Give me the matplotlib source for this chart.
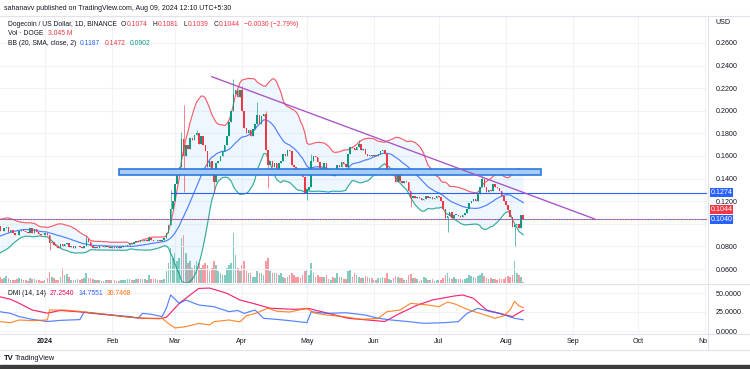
import numpy as np
import pandas as pd
import matplotlib
matplotlib.use("Agg")
import matplotlib.pyplot as plt
import matplotlib.dates as mdates
from matplotlib.patches import Rectangle
from matplotlib.lines import Line2D

plt.rcParams['font.family'] = ['Liberation Sans', 'DejaVu Sans']

# ---------------- data (DOGE/USD daily closes) ----------------
# warm-up closes (Nov 22 - Dec 10 2023) only feed the 20-day Bollinger window at the left edge
warmup_closes = [0.0800, 0.0810, 0.0820, 0.0815, 0.0805, 0.0800, 0.0820, 0.0830, 0.0850,
                 0.0870, 0.0900, 0.0890, 0.0950, 0.0960, 0.0970, 0.0985, 0.1000, 0.1010, 0.0980]
closes_dec = [0.0940, 0.0935, 0.0965, 0.0975, 0.0925, 0.0945, 0.0915, 0.0905, 0.0900, 0.0935,
              0.0945, 0.0935, 0.0930, 0.0920, 0.0960, 0.0915, 0.0950, 0.0930, 0.0910, 0.0905, 0.0900]
closes_jan = [0.0920, 0.0905, 0.0830, 0.0840, 0.0810, 0.0800, 0.0790, 0.0825, 0.0800, 0.0820,
              0.0830, 0.0795, 0.0800, 0.0790, 0.0800, 0.0805, 0.0795, 0.0790, 0.0805, 0.0865,
              0.0835, 0.0800, 0.0790, 0.0795, 0.0790, 0.0800, 0.0800, 0.0795, 0.0800, 0.0795, 0.0790]
closes_feb = [0.0795, 0.0790, 0.0795, 0.0790, 0.0795, 0.0800, 0.0805, 0.0815, 0.0830, 0.0825,
              0.0835, 0.0850, 0.0840, 0.0855, 0.0850, 0.0860, 0.0845, 0.0875, 0.0860, 0.0850,
              0.0845, 0.0855, 0.0850, 0.0860, 0.0870, 0.0920, 0.0990, 0.1130, 0.1200]
closes_mar = [0.1350, 0.1450, 0.1500, 0.1750, 0.1600, 0.1700, 0.1660, 0.1760, 0.1740, 0.1790,
              0.1800, 0.1710, 0.1780, 0.1700, 0.1640, 0.1500, 0.1560, 0.1450, 0.1370, 0.1540,
              0.1560, 0.1600, 0.1640, 0.1700, 0.1780, 0.1900, 0.2000, 0.2150, 0.2180, 0.2120, 0.2180]
closes_apr = [0.2000, 0.1850, 0.1800, 0.1830, 0.1780, 0.1840, 0.1880, 0.1960, 0.1880, 0.1950,
              0.1970, 0.1650, 0.1520, 0.1560, 0.1500, 0.1540, 0.1480, 0.1540, 0.1560, 0.1620,
              0.1600, 0.1650, 0.1640, 0.1520, 0.1500, 0.1470, 0.1460, 0.1430, 0.1410, 0.1270]
closes_may = [0.1300, 0.1330, 0.1560, 0.1600, 0.1590, 0.1550, 0.1490, 0.1480, 0.1540, 0.1450,
              0.1440, 0.1460, 0.1420, 0.1440, 0.1520, 0.1500, 0.1550, 0.1530, 0.1500, 0.1620,
              0.1680, 0.1670, 0.1650, 0.1680, 0.1710, 0.1650, 0.1660, 0.1620, 0.1600, 0.1610, 0.1600]
closes_jun = [0.1610, 0.1600, 0.1620, 0.1640, 0.1650, 0.1620, 0.1470, 0.1470, 0.1480, 0.1430,
              0.1370, 0.1440, 0.1380, 0.1360, 0.1380, 0.1370, 0.1290, 0.1230, 0.1250, 0.1230,
              0.1240, 0.1230, 0.1210, 0.1220, 0.1250, 0.1230, 0.1240, 0.1220, 0.1230, 0.1250]
closes_jul = [0.1240, 0.1200, 0.1130, 0.1050, 0.1070, 0.1100, 0.1050, 0.1080, 0.1080, 0.1070,
              0.1060, 0.1080, 0.1100, 0.1130, 0.1180, 0.1200, 0.1220, 0.1200, 0.1260, 0.1330,
              0.1400, 0.1330, 0.1280, 0.1300, 0.1290, 0.1350, 0.1330, 0.1320, 0.1290, 0.1250, 0.1200]
closes_aug = [0.1170, 0.1120, 0.1060, 0.0970, 0.0990, 0.1000, 0.0960, 0.1074, 0.1044]

wick_highs = {"2024-01-20": 0.0890, "2024-02-18": 0.0890, "2024-02-28": 0.1300,
              "2024-03-04": 0.1810, "2024-03-05": 0.2050, "2024-03-11": 0.1830,
              "2024-03-28": 0.2280, "2024-04-01": 0.2220, "2024-04-08": 0.2080,
              "2024-04-12": 0.2000, "2024-05-03": 0.1620, "2024-05-25": 0.1740,
              "2024-07-21": 0.1420, "2024-08-09": 0.1081}
wick_lows = {"2024-01-03": 0.0770, "2024-03-05": 0.1280, "2024-03-19": 0.1270,
             "2024-04-13": 0.1320, "2024-05-01": 0.1210, "2024-06-18": 0.1150,
             "2024-07-05": 0.0930, "2024-08-05": 0.0800, "2024-08-09": 0.1039}

# daily volume (relative units), Dec 11 2023 - Aug 9 2024
vol_dec = [6, 4, 5, 7, 5, 3, 3, 3, 4, 5, 4, 3, 3, 2, 5, 4, 4, 3, 3, 2, 2]
vol_jan = [3, 5, 11, 6, 5, 3, 3, 6, 15, 8, 9, 6, 3, 3, 3, 4, 3, 4, 5, 10, 5, 5, 4, 3, 3, 3, 2, 2, 3, 3, 3]
vol_feb = [3, 3, 2, 2, 3, 3, 3, 4, 4, 3, 3, 4, 4, 4, 4, 4, 3, 8, 4, 4, 4, 3, 3, 3, 4, 12, 20, 35, 25]
vol_mar = [30, 22, 25, 45, 48, 30, 20, 22, 15, 18, 22, 20, 15, 18, 20, 18, 12, 15, 22, 18,
           12, 10, 8, 8, 15, 18, 20, 50, 28, 15, 12]
vol_apr = [18, 22, 12, 10, 10, 6, 6, 12, 10, 10, 8, 22, 25, 12, 10, 10, 10, 8, 10, 6,
           5, 6, 8, 10, 8, 6, 6, 5, 8, 12]
vol_may = [14, 8, 20, 10, 6, 8, 6, 6, 6, 8, 4, 3, 6, 5, 10, 6, 6, 4, 4, 12,
           14, 6, 10, 8, 6, 5, 5, 7, 6, 5, 5]
vol_jun = [3, 3, 5, 5, 6, 5, 10, 4, 3, 5, 7, 6, 5, 5, 3, 3, 8, 9, 5, 5, 4, 2, 3, 6, 5, 3, 3, 4, 2, 3]
vol_jul = [3, 3, 5, 8, 10, 5, 4, 6, 4, 4, 4, 3, 4, 5, 8, 7, 6, 5, 7, 8,
           10, 7, 5, 4, 5, 4, 4, 3, 5, 4, 4]
vol_aug = [6, 7, 6, 8, 22, 10, 8, 6, 1]

# DMI (14,14)
adx_dates = ["2023-12-11", "2023-12-16", "2023-12-20", "2023-12-26", "2024-01-02", "2024-01-08",
             "2024-01-16", "2024-01-23", "2024-01-31", "2024-02-07", "2024-02-15", "2024-02-23",
             "2024-02-26", "2024-02-28", "2024-03-03", "2024-03-09", "2024-03-12", "2024-03-17",
             "2024-03-25", "2024-03-31", "2024-04-06", "2024-04-14", "2024-04-25", "2024-05-02",
             "2024-05-11", "2024-05-20", "2024-05-29", "2024-06-06", "2024-06-13", "2024-06-21",
             "2024-06-28", "2024-07-08", "2024-07-12", "2024-07-17", "2024-07-23", "2024-07-29",
             "2024-08-04", "2024-08-09"]
adx_vals = [45.0, 41.7, 36.4, 27.6, 23.5, 27.0, 25.4, 23.2, 21.0, 18.9, 16.7, 16.2,
            18.0, 24.0, 36.4, 49.6, 56.0, 56.5, 49.6, 40.8, 36.4, 30.0, 28.5, 29.5,
            23.2, 16.7, 14.5, 12.5, 23.2, 34.0, 40.8, 46.0, 47.4, 43.0, 27.6, 23.2, 18.9, 27.254]
pdi_dates = ["2023-12-11", "2023-12-16", "2023-12-20", "2023-12-26", "2024-01-02", "2024-01-08",
             "2024-01-17", "2024-01-19", "2024-01-25", "2024-02-01", "2024-02-09", "2024-02-13",
             "2024-02-15", "2024-02-19", "2024-02-24", "2024-02-26", "2024-02-28", "2024-03-03",
             "2024-03-06", "2024-03-12", "2024-03-19", "2024-03-26", "2024-03-30", "2024-04-02",
             "2024-04-07", "2024-04-11", "2024-04-17", "2024-04-23", "2024-05-01", "2024-05-03",
             "2024-05-10", "2024-05-19", "2024-05-28", "2024-06-03", "2024-06-09", "2024-06-17",
             "2024-06-24", "2024-07-04", "2024-07-10", "2024-07-14", "2024-07-19", "2024-07-25",
             "2024-07-29", "2024-08-05", "2024-08-09"]
pdi_vals = [25.4, 23.2, 18.9, 15.3, 12.5, 14.0, 15.0, 25.0, 23.0, 21.0, 18.9, 17.0,
            23.2, 22.0, 18.9, 30.0, 47.4, 36.4, 40.8, 34.2, 32.0, 25.4, 27.0, 23.2,
            27.6, 16.7, 15.3, 13.6, 11.0, 25.4, 23.2, 24.0, 21.0, 16.7, 14.5, 12.3,
            10.1, 11.0, 12.3, 23.2, 29.8, 25.4, 23.2, 16.7, 14.7551]
mdi_dates = ["2023-12-11", "2023-12-16", "2023-12-20", "2023-12-26", "2024-01-02", "2024-01-03",
             "2024-01-10", "2024-01-18", "2024-01-25", "2024-02-01", "2024-02-09", "2024-02-17",
             "2024-02-24", "2024-02-27", "2024-03-01", "2024-03-06", "2024-03-12", "2024-03-17",
             "2024-03-19", "2024-03-26", "2024-03-31", "2024-04-03", "2024-04-08", "2024-04-13",
             "2024-04-17", "2024-04-23", "2024-05-01", "2024-05-04", "2024-05-10", "2024-05-18",
             "2024-05-26", "2024-06-03", "2024-06-07", "2024-06-13", "2024-06-18", "2024-06-26",
             "2024-07-01", "2024-07-05", "2024-07-08", "2024-07-15", "2024-07-20", "2024-07-27",
             "2024-07-31", "2024-08-03", "2024-08-05", "2024-08-07", "2024-08-09"]
mdi_vals = [12.3, 11.0, 14.5, 13.6, 14.5, 27.6, 27.6, 25.4, 23.2, 21.0, 18.0, 16.7,
            16.7, 10.0, 4.0, 5.7, 10.0, 8.0, 12.3, 14.5, 12.0, 20.0, 24.0, 30.0,
            26.0, 25.0, 29.8, 24.0, 21.0, 18.9, 15.3, 16.7, 25.4, 27.6, 36.4, 34.2,
            32.0, 38.0, 36.0, 27.6, 23.2, 16.7, 20.0, 28.0, 39.0, 33.0, 30.7468]

# legend values shown by TradingView
bb_legend = ["0.1187", "0.1472", "0.0902"]
vol_legend = "3.045 M"
price_ticks = [0.06, 0.08, 0.10, 0.12, 0.14, 0.16, 0.18, 0.20, 0.22, 0.24, 0.26]
hidden_price_labels = [0.10]          # covered by the price-label boxes on TradingView
dmi_ticks = [0, 25, 50]
hline_level = 0.1274
hline_start = "2024-02-28"
support_level = 0.1040
zone_start, zone_end, zone_low, zone_high = "2024-02-04", "2024-08-17", 0.1435, 0.1483
trend_pts = (("2024-03-18", 0.2302), ("2024-09-11", 0.1043))
month_labels = ["2024", "Feb", "Mar", "Apr", "May", "Jun", "Jul", "Aug", "Sep", "Oct", "Nov"]
month_dates = ["2024-01-01", "2024-02-01", "2024-03-01", "2024-04-01", "2024-05-01", "2024-06-01",
               "2024-07-01", "2024-08-01", "2024-09-01", "2024-10-01", "2024-11-01"]

# ---------------- build series ----------------
closes_all = (warmup_closes + closes_dec + closes_jan + closes_feb + closes_mar + closes_apr
              + closes_may + closes_jun + closes_jul + closes_aug)
dates_all = pd.date_range("2023-11-22", periods=len(closes_all), freq="D")
closes = np.array(closes_all)
opens = np.r_[closes[0], closes[:-1]]
highs = np.maximum(opens, closes)
lows = np.minimum(opens, closes)
for d, v in wick_highs.items():
    i = dates_all.get_loc(pd.Timestamp(d)); highs[i] = max(highs[i], v)
for d, v in wick_lows.items():
    i = dates_all.get_loc(pd.Timestamp(d)); lows[i] = min(lows[i], v)
s = pd.Series(closes)
basis = s.rolling(20).mean().values
dev = s.rolling(20).std(ddof=0).values
upper, lower = basis + 2 * dev, basis - 2 * dev
volume = np.array(vol_dec + vol_jan + vol_feb + vol_mar + vol_apr + vol_may + vol_jun + vol_jul + vol_aug, float)

xnum = mdates.date2num(dates_all)
vis = dates_all >= pd.Timestamp("2023-12-11")
xv = xnum[vis]
dn = lambda d: mdates.date2num(pd.Timestamp(d))

# ---------------- figure ----------------
W, H, DPI = 750, 369, 100
fig = plt.figure(figsize=(W / DPI, H / DPI), dpi=DPI)
fig.patch.set_facecolor("white")

def rect(x0, y0, x1, y1):
    return [x0 / W, 1 - y1 / H, (x1 - x0) / W, (y1 - y0) / H]

DARK = "#131722"; UP = "#089981"; DN = "#f23645"; BLUE = "#2962ff"; GRID = "#f0f3fa"
FS = 5.1
jan1 = dn("2024-01-01")
XLIM = (jan1 - 20.9, jan1 + 305.97)
MAIN_TOP, MAIN_BOT = 16, 283
PLOT_R = 707

axv = fig.add_axes(rect(0, MAIN_TOP, PLOT_R, MAIN_BOT))
axv.set_xlim(*XLIM)
axv.set_ylim(0, volume.max() * (MAIN_BOT - MAIN_TOP) / 50.0)
axv.axis("off")
ax = fig.add_axes(rect(0, MAIN_TOP, PLOT_R, MAIN_BOT), sharex=axv)
ax.patch.set_alpha(0)
ax.set_xlim(*XLIM)
ax.set_ylim(0.26 - (MAIN_BOT - 43) / 1130, 0.26 + (43 - MAIN_TOP) / 1130)

# grid
for p in price_ticks:
    ax.axhline(p, color=GRID, lw=0.8, zorder=0)
for m in month_dates:
    ax.axvline(dn(m), color=GRID, lw=0.8, zorder=0)

# volume
up_all = closes >= opens
vcol = np.where(up_all[vis], UP, DN)
axv.bar(xv, volume, width=0.75, color=vcol, alpha=0.5, lw=0)

# Bollinger bands
ax.fill_between(xv, lower[vis], upper[vis], color="#2196f3", alpha=0.07, lw=0, zorder=1)
ax.plot(xv, upper[vis], color=DN, lw=0.85, alpha=0.8, zorder=2)
ax.plot(xv, basis[vis], color=BLUE, lw=0.85, alpha=0.8, zorder=2)
ax.plot(xv, lower[vis], color=UP, lw=0.85, alpha=0.8, zorder=2)

# candles
for mask, col in ((up_all, UP), (~up_all, DN)):
    m = mask & vis
    ax.vlines(xnum[m], lows[m], highs[m], color=col, lw=0.55, alpha=0.8, zorder=4)
    ax.bar(xnum[m], np.maximum(np.abs(closes - opens)[m], 0.0004),
           bottom=np.minimum(opens, closes)[m], width=0.7, color=col, lw=0, zorder=5)

# drawings
ax.add_patch(Rectangle((dn(zone_start), zone_low), dn(zone_end) - dn(zone_start), zone_high - zone_low,
                       facecolor="#a6cdf5", edgecolor="#2c78e0", lw=1.2, zorder=6))
ax.plot([dn(hline_start), XLIM[1]], [hline_level, hline_level], color=BLUE, lw=0.8, zorder=6)
ax.axhline(support_level, color=BLUE, lw=0.7, alpha=0.7, zorder=6)
ax.axhline(closes[-1], color=DN, lw=0.8, ls=(0, (1, 1.5)), zorder=6)
(t0, p0), (t1, p1) = trend_pts
ax.plot([dn(t0), dn(t1)], [p0, p1], color="#a852c6", lw=0.95, zorder=6)

# right price axis
ax.yaxis.tick_right()
ax.set_yticks(price_ticks)
ax.set_yticklabels(["" if p in hidden_price_labels else f"{p:.4f}" for p in price_ticks])
ax.tick_params(axis="y", length=0, pad=6, labelsize=FS, labelcolor=DARK)
ax.tick_params(axis="x", bottom=False, labelbottom=False)
for sp in ax.spines.values():
    sp.set_visible(False)

def price_label(val, col, dy_px=0.0):
    ax.annotate(f"{val:.4f}", xy=(1, val), xycoords=("axes fraction", "data"),
                xytext=(3.6 * 0.72, dy_px * 0.72), textcoords="offset points",
                ha="left", va="center", fontsize=FS, color="white", annotation_clip=False,
                bbox=dict(boxstyle="square,pad=0.12", fc=col, ec="none"), zorder=10)

price_label(hline_level, BLUE)
price_label(closes[-1], DN, 9.6)
price_label(support_level, BLUE)

# DMI pane
axd = fig.add_axes(rect(0, 284, PLOT_R, 334), sharex=axv)
axd.set_xlim(*XLIM)
axd.set_ylim(-(334 - 331) / 0.76, (331 - 284) / 0.76)
for v in dmi_ticks:
    axd.axhline(v, color=GRID, lw=0.8, zorder=0)
for m in month_dates:
    axd.axvline(dn(m), color=GRID, lw=0.8, zorder=0)
axd.plot([dn(d) for d in adx_dates], adx_vals, color="#f50057", lw=0.85, alpha=0.85)
axd.plot([dn(d) for d in pdi_dates], pdi_vals, color=BLUE, lw=0.85, alpha=0.8)
axd.plot([dn(d) for d in mdi_dates], mdi_vals, color="#ff6d00", lw=0.85, alpha=0.8)
axd.yaxis.tick_right()
axd.set_yticks(dmi_ticks)
axd.set_yticklabels([f"{v:.4f}" for v in dmi_ticks])
axd.tick_params(axis="y", length=0, pad=6, labelsize=FS, labelcolor=DARK)
axd.tick_params(axis="x", bottom=False, labelbottom=False)
for sp in axd.spines.values():
    sp.set_visible(False)

# time axis
axt = fig.add_axes(rect(0, 334, PLOT_R, 350), sharex=axv)
axt.set_xlim(*XLIM); axt.set_ylim(0, 1); axt.axis("off")
for lab, d in zip(month_labels, month_dates):
    axt.text(dn(d), (350 - 341.5) / 16, lab, ha="center", va="center", fontsize=FS, color=DARK,
             fontweight="bold" if lab == "2024" else "normal", clip_on=True)

# separators
def fline(x0, y0, x1, y1, col="#e0e3eb", lw=0.8):
    fig.add_artist(Line2D([x0 / W, x1 / W], [1 - y0 / H, 1 - y1 / H], color=col, lw=lw,
                          transform=fig.transFigure))
fline(0, 15.5, W, 15.5)
fline(PLOT_R + 0.5, 15.5, PLOT_R + 0.5, 350)
fline(0, 283.5, W, 283.5)
fline(0, 334, W, 334)
fline(0, 350, W, 350)
fig.add_artist(Rectangle((0, 0), 1, 4 / H, transform=fig.transFigure, color="#3d3d3d"))

# texts
renderer = fig.canvas.get_renderer()
def seg_text(x_px, y_px, segs, size=4.9):
    x = x_px
    for txt, col, gap in segs:
        x += gap
        t = fig.text(x / W, 1 - y_px / H, txt, color=col, fontsize=size, ha="left", va="center")
        x += t.get_window_extent(renderer=renderer).width

fig.text(4 / W, 1 - 8 / H, "sahanavv published on TradingView.com, Aug 09, 2024 12:10 UTC+5:30",
         fontsize=5.0, color=DARK, ha="left", va="center")
chg = closes[-1] - closes[-2]
pct = chg / closes[-2] * 100
seg_text(8, 24.3, [("Dogecoin / US Dollar, 1D, BINANCE", DARK, 0),
                   ("O", DARK, 4), (f"{opens[-1]:.4f}", DN, 0.3),
                   ("H", DARK, 5), (f"{highs[-1]:.4f}", DN, 0.3),
                   ("L", DARK, 5), (f"{lows[-1]:.4f}", DN, 0.3),
                   ("C", DARK, 5), (f"{closes[-1]:.4f}", DN, 0.3),
                   (f"\u2212{abs(chg):.4f} (\u2212{abs(pct):.2f}%)", DN, 5)])
seg_text(8, 33.7, [("Vol \u00b7 DOGE", DARK, 0), (vol_legend, DN, 4)])
seg_text(8, 43.3, [("BB (20, SMA, close, 2)", DARK, 0), (bb_legend[0], BLUE, 4),
                   (bb_legend[1], DN, 4), (bb_legend[2], UP, 4)])
seg_text(8, 293.3, [("DMI (14, 14)", DARK, 0), (f"{adx_vals[-1]:.4f}", "#f50057", 4),
                    (f"{pdi_vals[-1]:.4f}", BLUE, 4), (f"{mdi_vals[-1]:.4f}", "#ff6d00", 4)])
fig.text(715 / W, 1 - 23 / H, "USD", fontsize=FS, color=DARK, ha="left", va="center")
fig.text(4 / W, 1 - 358 / H, "TV", fontsize=5.6, color=DARK, fontweight="bold", ha="left", va="center")
fig.text(15 / W, 1 - 358 / H, "TradingView", fontsize=5.3, color=DARK, ha="left", va="center")

fig.savefig("out.png", dpi=DPI, facecolor="white")
